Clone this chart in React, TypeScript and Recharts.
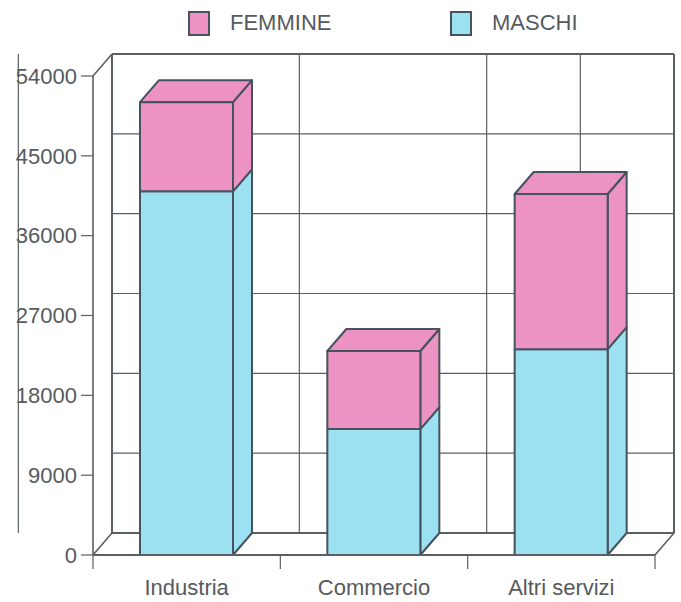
import { Bar, BarChart, CartesianGrid, Legend, XAxis, YAxis } from 'recharts';

const categories = ['Industria', 'Commercio', 'Altri servizi'];
const maschi = [41000, 14200, 23200];
const femmine = [10050, 8800, 17500];
const yTicks = [0, 9000, 18000, 27000, 36000, 45000, 54000];

const data = categories.map((name, i) => ({ name, maschi: maschi[i], femmine: femmine[i] }));

const WIDTH = 681;
const HEIGHT = 602;
const PLOT_LEFT = 93;
const PLOT_RIGHT = 655;
const PLOT_TOP = 76;
const PLOT_BOTTOM = 555;
const BAND = (PLOT_RIGHT - PLOT_LEFT) / categories.length;

// depth of the fake 3D projection
const DX = 19;
const DY = -22;

const INK = '#46525c';
const GRID = '#5a5f63';
const TEXT = '#565a5e';
const BLUE = '#9ce1f2';
const PINK = '#ec93c3';
const FONT = '"Liberation Sans", Arial, sans-serif';

const Box = ({ x, y, width, height, fill, top }: any) => {
  const right = x + width;
  const bottom = y + height;
  return (
    <g stroke={INK} strokeWidth={2} strokeLinejoin='round' fill={fill}>
      <path d={`M${right},${y}l${DX},${DY}V${bottom + DY}L${right},${bottom}Z`} />
      {top && <path d={`M${x},${y}l${DX},${DY}H${right + DX}L${right},${y}Z`} />}
      <rect x={x} y={y} width={width} height={height} />
    </g>
  );
};

// back wall lines, moved back from the plot front by the depth
const wallHorizontal = ({ x1, x2, y1, key }: any) => (
  <g key={key} stroke={GRID}>
    <line x1={x1 + DX} x2={x2 + DX} y1={y1 + DY} y2={y1 + DY} strokeWidth={y1 === PLOT_BOTTOM || y1 === PLOT_TOP ? 2 : 1.2} />
    {(y1 === PLOT_TOP || y1 === PLOT_BOTTOM) && (
      <line x1={x1} y1={y1} x2={x1 + DX} y2={y1 + DY} strokeWidth={1.6} />
    )}
    {y1 === PLOT_BOTTOM && <line x1={x2} y1={y1} x2={x2 + DX} y2={y1 + DY} strokeWidth={1.6} />}
  </g>
);

const wallVertical = ({ x1, y1, y2, index, key }: any) => {
  const edge = x1 - BAND / 2 + DX;
  return (
    <g key={key} stroke={GRID}>
      <line x1={edge} x2={edge} y1={y1 + DY} y2={y2 + DY} strokeWidth={index === 0 ? 2 : 1.2} />
      {index === categories.length - 1 && (
        <line x1={edge + BAND} x2={edge + BAND} y1={y1 + DY} y2={y2 + DY} strokeWidth={2} />
      )}
    </g>
  );
};

const CategoryTick = ({ x, y, payload, index }: any) => (
  <g>
    <line x1={x - BAND / 2} x2={x - BAND / 2} y1={PLOT_BOTTOM} y2={PLOT_BOTTOM + 14} stroke={GRID} strokeWidth={1.2} />
    {index === categories.length - 1 && (
      <line x1={x + BAND / 2} x2={x + BAND / 2} y1={PLOT_BOTTOM} y2={PLOT_BOTTOM + 14} stroke={GRID} strokeWidth={1.2} />
    )}
    <text x={x} y={y + 32} textAnchor='middle' fontSize={22} fontFamily={FONT} fill={TEXT}>
      {payload.value}
    </text>
  </g>
);

const LegendRow = ({ payload }: any) => (
  <div style={{ position: 'relative', width: WIDTH, height: 50, fontFamily: FONT, fontSize: 22, color: TEXT }}>
    {(payload ?? []).map((entry: any, i: number) => (
      <div key={entry.value} style={{ position: 'absolute', left: 188 + i * 262, top: 10, display: 'flex', alignItems: 'center' }}>
        <span
          style={{
            display: 'inline-block',
            width: 18,
            height: 21,
            background: entry.color,
            border: `2px solid ${INK}`,
            marginRight: 20,
          }}
        />
        <span>{entry.value}</span>
      </div>
    ))}
  </div>
);

export default function App() {
  return (
    <div style={{ position: 'absolute', left: 0, top: 0, background: '#fff' }}>
      <BarChart
        width={WIDTH}
        height={HEIGHT}
        data={data}
        barSize={93}
        margin={{ top: PLOT_TOP, right: WIDTH - PLOT_RIGHT, bottom: 0, left: 0 }}
      >
        <CartesianGrid horizontal={wallHorizontal} vertical={wallVertical} />
        <XAxis
          dataKey='name'
          height={HEIGHT - PLOT_BOTTOM}
          tick={<CategoryTick />}
          tickLine={false}
          interval={0}
          axisLine={{ stroke: GRID, strokeWidth: 2 }}
        />
        <YAxis
          width={PLOT_LEFT}
          domain={[0, 54000]}
          ticks={yTicks}
          interval={0}
          tickSize={12}
          tickMargin={4}
          tick={{ fontSize: 22, fontFamily: FONT, fill: TEXT }}
          tickLine={{ stroke: GRID, strokeWidth: 1.2 }}
          axisLine={{ stroke: GRID, strokeWidth: 1.6 }}
        />
        <Legend verticalAlign='middle' content={<LegendRow />} wrapperStyle={{ top: 0, left: 0, width: WIDTH }} />
        <Bar dataKey='maschi' name='MASCHI' stackId='a' fill={BLUE} isAnimationActive={false} shape={<Box />} />
        <Bar dataKey='femmine' name='FEMMINE' stackId='a' fill={PINK} isAnimationActive={false} shape={<Box top />} />
      </BarChart>
    </div>
  );
}
